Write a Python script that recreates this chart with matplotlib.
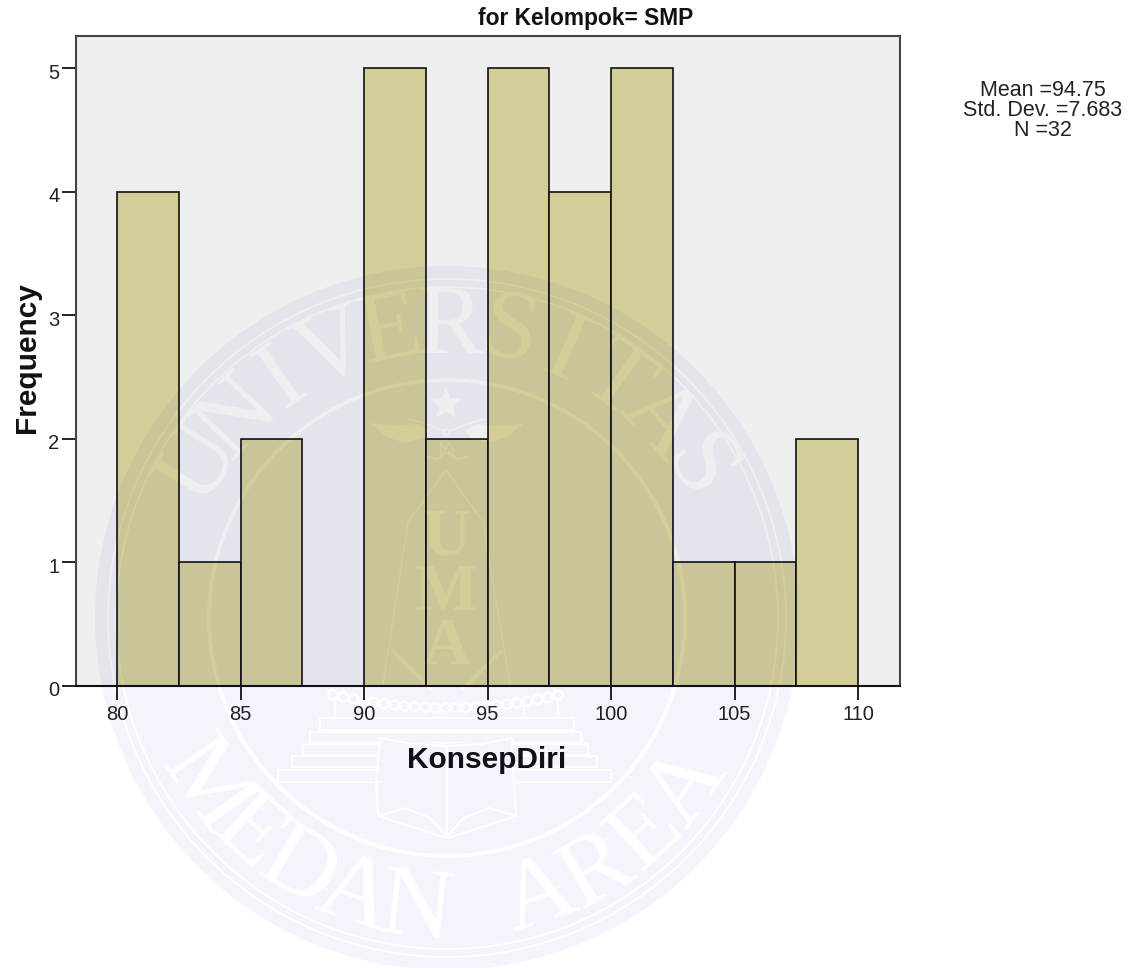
import numpy as np
import matplotlib
matplotlib.use('Agg')
import matplotlib.pyplot as plt
from matplotlib.patches import Circle, Polygon, Rectangle
from matplotlib.transforms import ScaledTranslation

W, H = 1141, 968

# histogram values
bin_lefts = [80, 82.5, 85, 87.5, 90, 92.5, 95, 97.5, 100, 102.5, 105, 107.5]
counts = [4, 1, 2, 0, 5, 2, 5, 4, 5, 1, 1, 2]
bin_width = 2.5
x_ticks = [80, 85, 90, 95, 100, 105, 110]
y_ticks = [0, 1, 2, 3, 4, 5]

title = 'for Kelompok= SMP'
x_label = 'KonsepDiri'
y_label = 'Frequency'
stats_lines = ['Mean =94.75', 'Std. Dev. =7.683', 'N =32']

top_word = 'UNIVERSITAS'
bottom_word = 'MEDAN AREA'
shield_letters = ['U', 'M', 'A']

plt.rcParams['font.family'] = ['Liberation Sans', 'DejaVu Sans']


def fx(px):
    return px / W


def fy(px):
    return 1 - px / H


def seal_mask():
    # the watermark is a tinted disc with its letters and lines left as holes,
    # so draw it white on black first and use that as an alpha mask
    cx, cy = 447, 618
    mfig = plt.figure(figsize=(W / 100, H / 100), dpi=100, facecolor='black')
    m = mfig.add_axes([0, 0, 1, 1])
    m.set_xlim(0, W)
    m.set_ylim(H, 0)
    m.axis('off')
    m.add_patch(Circle((cx, cy), 352, fc='white', ec='none'))
    for r, lw in [(339, 1.3), (331, 1.3), (238, 2.6)]:
        m.add_patch(Circle((cx, cy), r, fc='none', ec='black', lw=lw))

    serif = 'Liberation Serif'
    for i, ch in enumerate(top_word):
        t = -58 + i * 11.7
        a = np.radians(t)
        m.text(cx + 290 * np.sin(a), cy - 290 * np.cos(a), ch, color='black', family=serif,
               fontsize=72, rotation=-t, rotation_mode='anchor', ha='center', va='center')
    for i, ch in enumerate(bottom_word):
        t = -55 + i * 110 / (len(bottom_word) - 1)
        a = np.radians(t)
        m.text(cx + 294 * np.sin(a), cy + 294 * np.cos(a), ch, color='black', family=serif,
               fontsize=72, rotation=t, rotation_mode='anchor', ha='center', va='center')

    # star
    ang = np.radians(np.arange(10) * 36)
    rad = np.where(np.arange(10) % 2 == 0, 17, 7)
    m.add_patch(Polygon(np.c_[cx - 1 + rad * np.sin(ang), 404 - rad * np.cos(ang)], fc='black', ec='none'))

    # wings and the little figure under them
    for s in (-1, 1):
        m.add_patch(Polygon([(cx + s * 77, 423), (cx + s * 55, 426), (cx + s * 30, 424), (cx + s * 18, 430),
                             (cx + s * 24, 438), (cx + s * 42, 443), (cx + s * 60, 437)], fc='black', ec='none'))
        m.plot([cx + s * 3, cx + s * 20, cx + s * 38], [431, 424, 419], color='black', lw=1)
        m.plot([cx + s * 2, cx + s * 10, cx + s * 20], [453, 459, 457], color='black', lw=2)
    m.add_patch(Circle((cx - 1, 432), 3, fc='none', ec='black', lw=1))
    m.plot([cx - 6, cx - 6, cx - 2, cx + 2, cx + 6, cx + 6], [456, 442, 450, 442, 450, 456], color='black', lw=1.2)

    # shield
    m.plot([cx - 64, cx - 39, cx - 1, cx + 36, cx + 63], [685, 522, 470, 522, 685], color='black', lw=1)
    for ch, yc in zip(shield_letters, [538, 594, 647]):
        m.text(cx - 1, yc, ch, color='black', family=serif, weight='bold', fontsize=48, ha='center', va='center')

    # branches at the foot of the shield
    for s in (-1, 1):
        for k in range(7):
            bx = cx + s * (50 - k * 5)
            by = 655 + k * 5
            m.plot([bx - 4, bx + 4], [by - 3, by + 3] if s < 0 else [by + 3, by - 3], color='black', lw=2)

    # beads
    bead_x = np.linspace(333, 558, 23)
    bead_y = 708 - 13 * ((bead_x - cx) / 112) ** 2
    for bx, by in zip(bead_x, bead_y):
        m.add_patch(Circle((bx, by), 4.6, fc='none', ec='black', lw=1.6))

    # pillars and steps
    for xa, xb in [(335, 368), (524, 558)]:
        m.plot([xa, xa], [700, 718], color='black', lw=1.3)
        m.plot([xb, xb], [700, 718], color='black', lw=1.3)
    steps = [(320, 574, 718, 730), (310, 581, 732, 743), (303, 588, 744, 755), (292, 597, 756, 767), (278, 611, 770, 782)]
    for xa, xb, ya, yb in steps:
        m.add_patch(Rectangle((xa, ya), xb - xa, yb - ya, fc='none', ec='black', lw=1.3))

    # book sits over the steps
    m.add_patch(Polygon([(380, 738), (447, 744), (512, 738), (512, 820), (447, 838), (380, 820)], fc='white', ec='none'))
    m.plot([380, 412, 447, 482, 512], [738, 744, 746, 744, 738], color='black', lw=1.3)
    m.plot([380, 376, 378, 412, 447, 482, 516, 514, 512], [738, 780, 816, 827, 838, 827, 816, 780, 738], color='black', lw=1.3)
    m.plot([378, 405, 430, 447, 464, 489, 516], [816, 808, 818, 836, 818, 808, 816], color='black', lw=1.3)
    m.plot([447, 447], [746, 836], color='black', lw=1.3)

    mfig.canvas.draw()
    buf = np.asarray(mfig.canvas.buffer_rgba())[:, :, 0] / 255.0
    plt.close(mfig)
    return buf


fig = plt.figure(figsize=(W / 100, H / 100), dpi=100, facecolor='white')
ax = fig.add_axes([fx(76), fy(686), fx(824), 650 / H])
ax.set_facecolor('#EFEFEF')

ax.bar(bin_lefts, counts, width=bin_width, align='edge', color='#D3CE97', edgecolor='#111111', linewidth=1.2)

ax.set_xlim(78.34, 111.7)
ax.set_ylim(0, 5.26)
ax.set_xticks(x_ticks)
ax.set_yticks(y_ticks)
ax.tick_params(axis='both', length=10, width=1.4, color='#222222', labelsize=14.5, labelcolor='#222222', pad=2)
ax.tick_params(axis='x', pad=3.5)

# the y tick labels sit a little below their ticks
shift = ScaledTranslation(0, -3 / 100, fig.dpi_scale_trans)
for label in ax.get_yticklabels():
    label.set_transform(label.get_transform() + shift)

for name, spine in ax.spines.items():
    spine.set_linewidth(1.5)
    spine.set_color('#444444')
ax.spines['bottom'].set_color('#111111')

fig.text(fx(586), fy(18), title, ha='center', va='center', fontsize=16.4, fontweight='bold', color='#111111')
fig.text(fx(487), fy(760), x_label, ha='center', va='center', fontsize=21.5, fontweight='bold', color='#111111')
fig.text(fx(27), fy(358), y_label, ha='center', va='center', rotation=90, fontsize=21.5, fontweight='bold', color='#111111')
for line, ypx in zip(stats_lines, [90, 110, 131]):
    fig.text(fx(1043), fy(ypx), line, ha='center', va='center', fontsize=15.5, color='#222222')

mask = seal_mask()
overlay = np.zeros((H, W, 4))
overlay[:, :, 2] = 190 / 255
overlay[:, :, 3] = mask * 0.045
fig.figimage(overlay, zorder=5)

fig.savefig('out.png', dpi=100)
